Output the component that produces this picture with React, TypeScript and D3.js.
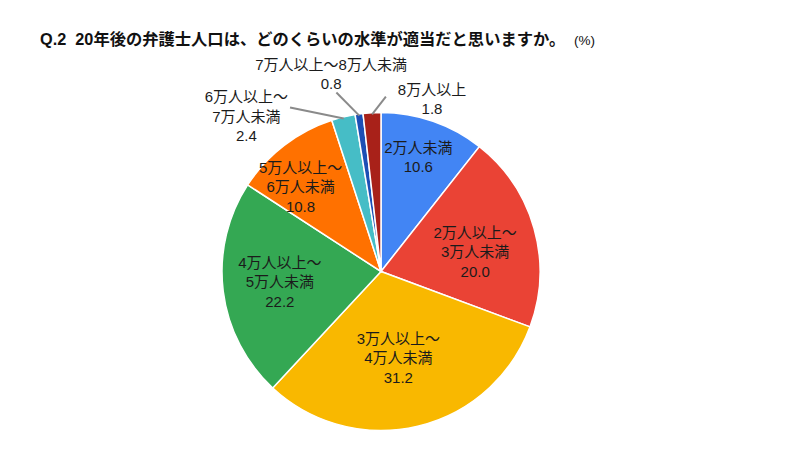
import React from 'react'
import * as d3 from 'd3'

const categories = [
  ['2万人未満'],
  ['2万人以上～', '3万人未満'],
  ['3万人以上～', '4万人未満'],
  ['4万人以上～', '5万人未満'],
  ['5万人以上～', '6万人未満'],
  ['6万人以上～', '7万人未満'],
  ['7万人以上～8万人未満'],
  ['8万人以上'],
]
const values = [10.6, 20.0, 31.2, 22.2, 10.8, 2.4, 0.8, 1.8]
const colors = ['#4285f4', '#ea4335', '#f9b800', '#34a853', '#ff7100', '#46bdc6', '#1c4fb5', '#a82119']

const title = 'Q.2  20年後の弁護士人口は、どのくらいの水準が適当だと思いますか。'

// label layout: inside slices (angle offset in degrees, radius fraction)
const insideLabel: Record<number, [number, number]> = {
  0: [-1, 0.755],
  1: [4, 0.605],
  2: [2, 0.555],
  3: [1, 0.64],
  4: [-6, 0.735],
}
// outside slices: leader end (angle, r) and label centre (angle, r)
const outsideLabel: Record<number, { line: [number, number]; text: [number, number] }> = {
  5: { line: [331, 1.18], text: [319, 1.29] },
  6: { line: [346, 1.16], text: [345.8, 1.28] },
  7: { line: [1.6, 1.1], text: [16.5, 1.13] },
}

const W = 800
const H = 449
const cx = 381
const cy = 271.5
const R = 159
const lineH = 19.5
const font = '"Liberation Sans", "Noto Sans CJK JP", sans-serif'

function polar(deg: number, r: number): [number, number] {
  const a = (deg * Math.PI) / 180
  return [Math.sin(a) * r, -Math.cos(a) * r]
}

export default function App() {
  const pie = d3.pie<number>().sort(null).value(d => d)
  const arcs = pie(values)
  const arc = d3.arc<d3.PieArcDatum<number>>().innerRadius(0).outerRadius(R)
  const toDeg = (rad: number) => (rad * 180) / Math.PI

  return (
    <svg width={W} height={H} style={{ position: 'absolute', left: 0, top: 0, background: '#fff' }}>
      <text x={40} y={45} fontFamily={font} fontSize={16.3} fontWeight="bold" fill="#111" style={{ whiteSpace: 'pre' }}>
        {title}
      </text>
      <text x={574} y={45} fontFamily={font} fontSize={13.5} fill="#111">(%)</text>
      <g transform={`translate(${cx},${cy})`}>
        {arcs.map((a, i) => (
          <path key={i} d={arc(a) || ''} fill={colors[i]} stroke="#fff" strokeWidth={1.5} />
        ))}
        {arcs.map((a, i) => {
          const mid = toDeg((a.startAngle + a.endAngle) / 2)
          const lines = [...categories[i], values[i].toFixed(1)]
          if (insideLabel[i]) {
            const [off, f] = insideLabel[i]
            const [x, y] = polar(mid + off, R * f)
            return (
              <text key={i} x={x} y={y} textAnchor="middle" fontFamily={font} fontSize={15} fill="#1b1b1b">
                {lines.map((l, j) => (
                  <tspan key={j} x={x} y={y + (j - (lines.length - 1) / 2) * lineH} dy="0.35em">{l}</tspan>
                ))}
              </text>
            )
          }
          const o = outsideLabel[i]
          const [x0, y0] = polar(mid, R * 0.99)
          const [x1, y1] = polar(o.line[0], R * o.line[1])
          const [tx, ty] = polar(o.text[0], R * o.text[1])
          return (
            <g key={i}>
              <line x1={x0} y1={y0} x2={x1} y2={y1} stroke="#8a8a8a" strokeWidth={2} />
              <text x={tx} y={ty} textAnchor="middle" fontFamily={font} fontSize={15} fill="#1b1b1b">
                {lines.map((l, j) => (
                  <tspan key={j} x={tx} y={ty + (j - (lines.length - 1) / 2) * lineH} dy="0.35em">{l}</tspan>
                ))}
              </text>
            </g>
          )
        })}
      </g>
    </svg>
  )
}
